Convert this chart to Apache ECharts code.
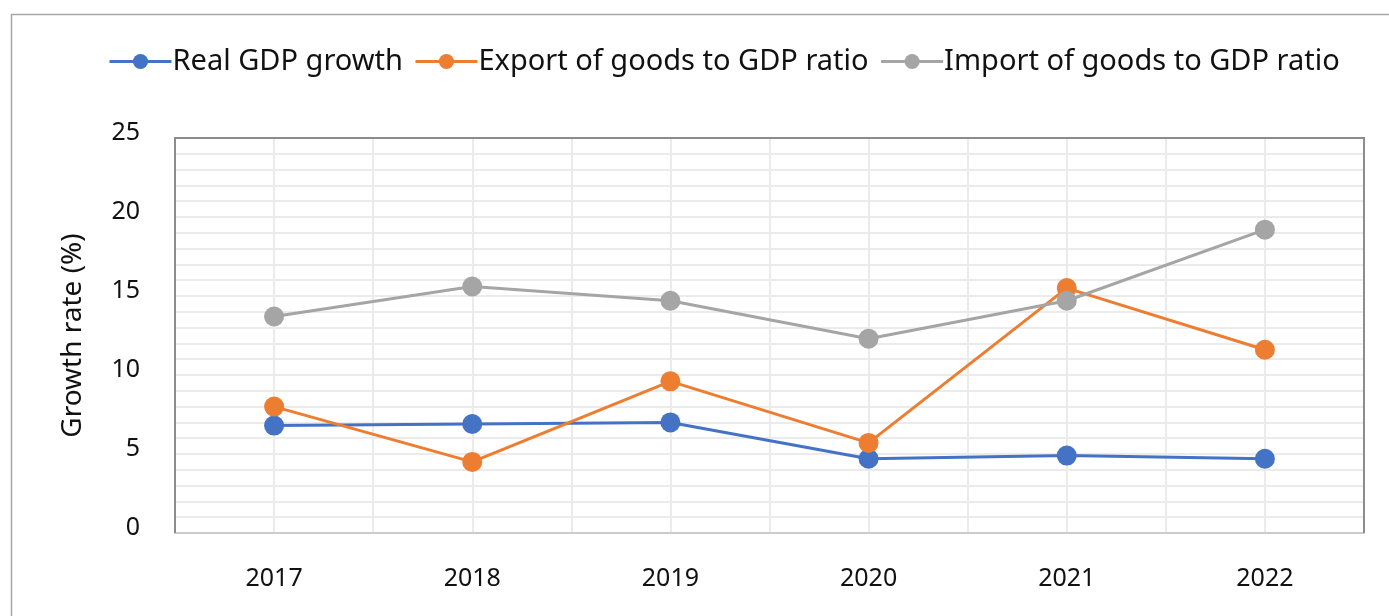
<!DOCTYPE html>
<html>
<head>
<meta charset="utf-8">
<script src="https://cdn.jsdelivr.net/npm/echarts@6/dist/echarts.min.js"></script>
<style>
html,body{margin:0;padding:0;background:#fff;}
#c{width:1389px;height:616px;}
</style>
</head>
<body>
<div id="c"></div>
<script>
const categories = ['2017','2018','2019','2020','2021','2022'];
const realGdp = [6.8, 6.9, 7.0, 4.7, 4.9, 4.7];
const exportRatio = [8.0, 4.5, 9.6, 5.7, 15.5, 11.6];
const importRatio = [13.7, 15.6, 14.7, 12.3, 14.7, 19.2];
const seriesNames = ['Real GDP growth','Export of goods to GDP ratio','Import of goods to GDP ratio'];
const colors = ['#4472C4','#ED7D31','#A5A5A5'];

const FONT = '"Noto Sans", "Open Sans", sans-serif';
const G = {left:175, right:25, top:138, bottom:83};
const W = 1389, H = 616;
const chart = echarts.init(document.getElementById('c'), null, {renderer:'canvas'});
const gridStyle = {color:'#ebebeb', width:2};
function mkSeries(name, data, color){
  return {
    name, type:'line', data, xAxisIndex:0, yAxisIndex:0,
    symbol:'circle', symbolSize:20,
    lineStyle:{color, width:3},
    itemStyle:{color},
    z:3
  };
}
chart.setOption({
  animation:false,
  textStyle:{fontFamily:FONT},
  graphic:[
    {type:'rect', left:9, top:12, shape:{width:1420, height:700}, style:{fill:'none', stroke:'#a6a6a6', lineWidth:1.5}, silent:true, z:-10},
    {type:'polyline', silent:true, z:100,
      shape:{points:[[G.left, H-G.bottom],[G.left, G.top],[W-G.right, G.top],[W-G.right, H-G.bottom]]},
      style:{fill:'none', stroke:'#8c8c8c', lineWidth:2}}
  ],
  legend:{
    left:103, top:42,
    itemWidth:62, itemHeight:19, itemGap:11,
    lineStyle:{width:3},
    textStyle:{fontFamily:FONT, fontSize:29, color:'#111', padding:[0,0,0,-4]},
    data:seriesNames
  },
  grid:{left:G.left, right:G.right, top:G.top, bottom:G.bottom, show:false},
  xAxis:[{
    type:'category', data:categories, boundaryGap:true,
    axisLine:{show:true, lineStyle:{color:'#cccccc', width:2}},
    axisTick:{show:false},
    splitLine:{show:false},
    axisLabel:{fontFamily:FONT, fontSize:25, color:'#111', margin:33}
  },{
    type:'value', min:0, max:12, interval:1, show:true, position:'top',
    axisLine:{show:false}, axisTick:{show:false}, axisLabel:{show:false},
    splitLine:{show:true, lineStyle:gridStyle}
  }],
  yAxis:{
    type:'value', min:0, max:25, interval:1,
    name:'Growth rate (%)', nameLocation:'middle', nameGap:88, nameRotate:90,
    nameTextStyle:{fontFamily:FONT, fontSize:28, color:'#111'},
    axisLine:{show:false}, axisTick:{show:false},
    axisLabel:{fontFamily:FONT, fontSize:25, color:'#111', margin:35, verticalAlign:'bottom', lineHeight:10,
      formatter:v => (v % 5 === 0 ? String(v) : '')},
    splitLine:{show:true, lineStyle:gridStyle}
  },
  series:[
    mkSeries(seriesNames[0], realGdp, colors[0]),
    mkSeries(seriesNames[1], exportRatio, colors[1]),
    mkSeries(seriesNames[2], importRatio, colors[2])
  ]
});
</script>
</body>
</html>
